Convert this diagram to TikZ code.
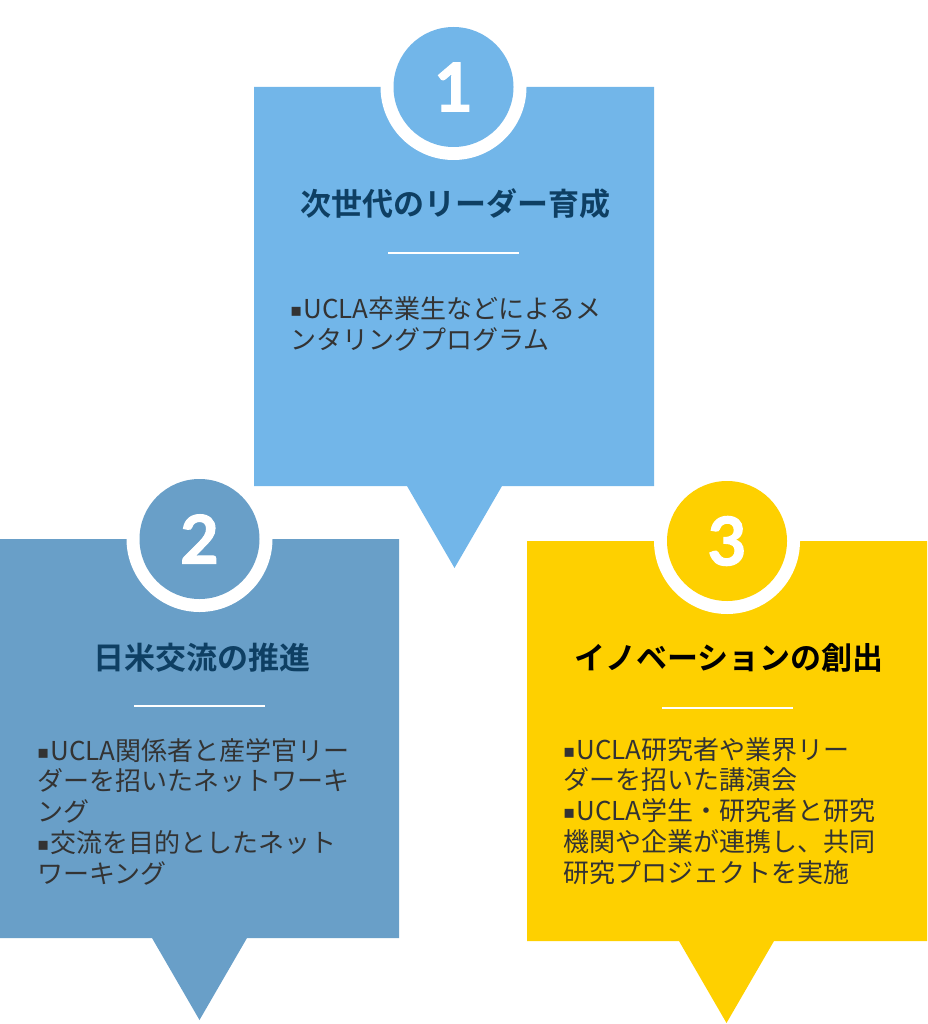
\documentclass[tikz,border=0pt]{standalone}
\usepackage{fontspec}
\newfontfamily\jpfont{Noto Sans CJK JP}[BoldFont={Noto Sans CJK JP Bold}]
\newfontfamily\numfont{Lato Bold}[FakeBold=1.6]
\newfontfamily\symfont{DejaVu Sans}
\definecolor{boxA}{HTML}{72B6E9}
\definecolor{boxB}{HTML}{699FC8}
\definecolor{boxC}{HTML}{FED000}
\definecolor{navy}{HTML}{0E3F63}
\definecolor{bodygray}{HTML}{333333}
\newcommand{\bul}{\raisebox{2pt}{\symfont\fontsize{18}{18}\selectfont ▪}\hspace{1pt}}
\tikzset{
  numtxt/.style={text=white, font={\numfont\fontsize{67}{67}\selectfont}, inner sep=0pt, anchor=center},
  titletxt/.style={font={\jpfont\bfseries\fontsize{31}{36}\selectfont}, inner sep=0pt, anchor=base},
  bodytxt/.style={text=bodygray, font={\jpfont\fontsize{26}{30.7}\selectfont}, inner sep=0pt, align=left, anchor=base west},
  rule/.style={white, line width=2.5pt}
}
\begin{document}
\begin{tikzpicture}[x=1pt,y=-1pt]
\useasboundingbox (0,0) rectangle (927,1024);
% box 1
\fill[boxA] (254,87) -- (654,87) -- (654,486) -- (502,486) -- (454.5,568) -- (407,486) -- (254,486) -- cycle;
\fill[white] (453.5,87) circle[radius=73pt];
\fill[boxA] (453.5,87) circle[radius=60pt];
% box 2
\fill[boxB] (0,539) -- (399,539) -- (399,938) -- (247,938) -- (199.5,1020) -- (152,938) -- (0,938) -- cycle;
\fill[white] (199.5,539) circle[radius=73pt];
\fill[boxB] (199.5,539) circle[radius=60pt];
% box 3
\fill[boxC] (527,541) -- (927,541) -- (927,941) -- (774,941) -- (726.5,1023) -- (679,941) -- (527,941) -- cycle;
\fill[white] (727,541) circle[radius=73pt];
\fill[boxC] (727,541) circle[radius=60pt];
% numbers
\node[numtxt] (n1) at (453.5,87) {1};
\node[numtxt] (n2) at (199.5,539) {2};
\node[numtxt] (n3) at (727,541) {3};
% titles
\node[titletxt, text=navy] (t1) at (455,216) {次世代のリーダー育成};
\node[titletxt, text=navy] (t2) at (202,669) {日米交流の推進};
\node[titletxt, text=black] (t3) at (729,669) {イノベーションの創出};
% rules
\draw[rule] (388,253) -- (519,253);
\draw[rule] (134,706) -- (265,706);
\draw[rule] (662,708) -- (793,708);
% bodies (base anchor = last line's baseline)
\node[bodytxt] (b1) at (290,349) {\bul UCLA卒業生などによるメ\\ンタリングプログラム};
\node[bodytxt] (b2) at (37,883) {\bul UCLA関係者と産学官リー\\ダーを招いたネットワーキ\\ング\\\bul 交流を目的としたネット\\ワーキング};
\node[bodytxt] (b3) at (563,882) {\bul UCLA研究者や業界リー\\ダーを招いた講演会\\\bul UCLA学生・研究者と研究\\機関や企業が連携し、共同\\研究プロジェクトを実施};
\end{tikzpicture}
\end{document}
